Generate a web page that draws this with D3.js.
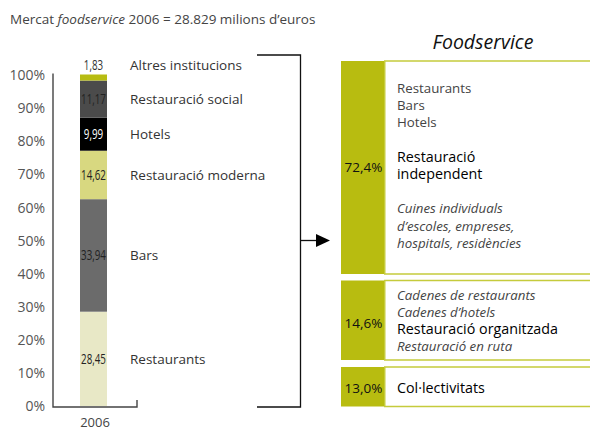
<!DOCTYPE html>
<html>
<head>
<meta charset="utf-8">
<script src="https://cdn.jsdelivr.net/npm/d3@7/dist/d3.min.js"></script>
<style>
  html, body { margin: 0; padding: 0; background: #fff; }
  svg { display: block; font-family: "Open Sans", "Noto Sans", sans-serif; }
</style>
</head>
<body>
<svg id="chart" width="590" height="430"></svg>
<script>
// Market composition, foodservice 2006 (% of 28.829 M€)
const years = ["2006"];
const segments = ["Restaurants", "Bars", "Restauració moderna", "Hotels", "Restauració social", "Altres institucions"];
const shares = [28.45, 33.94, 14.62, 9.99, 11.17, 1.83];
const shareLabels = ["28,45", "33,94", "14,62", "9,99", "11,17", "1,83"];
const segmentColors = ["#e8e8c6", "#6b6b6b", "#d8d880", "#000000", "#4b4b4b", "#b7bc12"];
const yTicks = [0, 10, 20, 30, 40, 50, 60, 70, 80, 90, 100];

// Segment groups summarised on the right
const groupShares = [72.4, 14.6, 13.0];
const groupShareLabels = ["72,4%", "14,6%", "13,0%"];
const groupLines = [
  [["Restaurants", "n"], ["Bars", "n"], ["Hotels", "n"], ["", "gap"],
   ["Restauració", "b"], ["independent", "b"], ["", "gap"],
   ["Cuines individuals", "i"], ["d’escoles, empreses,", "i"], ["hospitals, residències", "i"]],
  [["Cadenes de restaurants", "i"], ["Cadenes d’hotels", "i"], ["Restauració organitzada", "b"], ["Restauració en ruta", "i"]],
  [["Col·lectivitats", "b"]]
];

const svg = d3.select("#chart");
const olive = "#b8bc10";
const axisColor = "#444";

// Title
const title = svg.append("text").attr("x", 10).attr("y", 24)
  .attr("font-size", 13.5).attr("fill", "#444");
title.append("tspan").text("Mercat ");
title.append("tspan").attr("font-style", "italic").text("foodservice");
title.append("tspan").text(" 2006 = 28.829 milions d’euros");

// Stacked bar
const y = d3.scaleLinear().domain([0, 100]).range([406, 74.5]);
const x = d3.scaleBand().domain(years).range([80, 107]).padding(0);
const barMid = x("2006") + x.bandwidth() / 2;

const stackData = [Object.fromEntries(segments.map((s, i) => [s, shares[i]]))];
const stack = d3.stack().keys(segments)(stackData);

const bars = svg.append("g");
stack.forEach((layer, i) => {
  const d = layer[0];
  bars.append("rect")
    .attr("x", x("2006"))
    .attr("width", x.bandwidth())
    .attr("y", y(d[1]))
    .attr("height", y(d[0]) - y(d[1]))
    .attr("fill", segmentColors[i]);
});

// Axis: labels only, with custom frame line
const yAxis = d3.axisLeft(y).tickValues(yTicks).tickSize(0).tickPadding(0)
  .tickFormat(d => d + "%");
const gy = svg.append("g").attr("transform", "translate(45,0)").call(yAxis);
gy.select(".domain").remove();
gy.selectAll("text").attr("font-size", 14).attr("fill", "#555")
  .attr("font-family", "Open Sans, sans-serif").attr("dy", "0.35em");

svg.append("path")
  .attr("d", `M53,${y(100) - 1}V${y(0) + 1}H137V${y(0) - 6}`)
  .attr("fill", "none").attr("stroke", axisColor).attr("stroke-width", 1.4);

svg.append("text").attr("x", barMid + 1.5).attr("y", 426.5)
  .attr("text-anchor", "middle").attr("font-size", 13).attr("fill", "#444").text(years[0]);

// Value labels on segments (condensed) and category names
stack.forEach((layer, i) => {
  const d = layer[0];
  let cy = (y(d[0]) + y(d[1])) / 2;
  if (shares[i] < 3) cy = y(d[1]) - 9.5;
  const fill = segmentColors[i] === "#000000" ? "#fff" : "#222";
  svg.append("g")
    .attr("transform", `translate(${barMid},${cy}) scale(0.7,1)`)
    .append("text")
    .attr("dy", "0.35em")
    .attr("text-anchor", "middle")
    .attr("font-size", 14)
    .attr("fill", shares[i] < 3 ? "#333" : fill)
    .text(shareLabels[i]);
  svg.append("text")
    .attr("x", 130).attr("y", cy).attr("dy", "0.35em")
    .attr("font-size", 13.5).attr("fill", "#333")
    .text(segments[i]);
});

// Bracket and arrow
svg.append("path")
  .attr("d", "M257,55H300.5V407H257")
  .attr("fill", "none").attr("stroke", "#111").attr("stroke-width", 1.3);
svg.append("path")
  .attr("d", "M300.5,240.5H318")
  .attr("fill", "none").attr("stroke", "#111").attr("stroke-width", 1.3);
svg.append("path")
  .attr("d", "M316,234L330,240.5L316,247Z").attr("fill", "#000");

// Right panel
svg.append("text").attr("x", 483).attr("y", 49).attr("text-anchor", "middle")
  .attr("font-size", 19.5).attr("font-style", "italic").attr("fill", "#111")
  .text("Foodservice");

const boxes = [
  { top: 61, bottom: 274, firstLine: 88.3 },
  { top: 280.5, bottom: 360, firstLine: 295 },
  { top: 367, bottom: 406.5, firstLine: 388 }
];
const lineH = 17.2;
const boxLeft = 341, splitX = 384, boxRight = 590;

boxes.forEach((b, i) => {
  const g = svg.append("g");
  g.append("rect").attr("x", boxLeft).attr("y", b.top)
    .attr("width", splitX - boxLeft).attr("height", b.bottom - b.top).attr("fill", olive);
  g.append("path")
    .attr("d", `M${splitX},${b.top}H${boxRight}M${splitX},${b.bottom}H${boxRight}M${splitX + 0.75},${b.top}V${b.bottom}`)
    .attr("stroke", "#c5cb3c").attr("stroke-width", 1.5).attr("fill", "none");

  const shareY = i === 0 ? 167 : (i === 1 ? 323 : 388);
  g.append("text").attr("x", (boxLeft + splitX) / 2 + 1).attr("y", shareY).attr("dy", "0.35em")
    .attr("text-anchor", "middle").attr("font-size", 13.5).attr("fill", "#111")
    .text(groupShareLabels[i]);

  groupLines[i].forEach((ln, j) => {
    if (ln[1] === "gap") return;
    g.append("text")
      .attr("x", 397).attr("y", b.firstLine + j * lineH).attr("dy", "0.35em")
      .attr("font-size", ln[1] === "b" ? 14.3 : 13.3)
      .attr("font-style", ln[1] === "i" ? "italic" : "normal")
      .attr("fill", ln[1] === "b" ? "#000" : "#444")
      .attr("font-weight", ln[1] === "b" ? 500 : 400)
      .text(ln[0]);
  });
});
</script>
</body>
</html>
